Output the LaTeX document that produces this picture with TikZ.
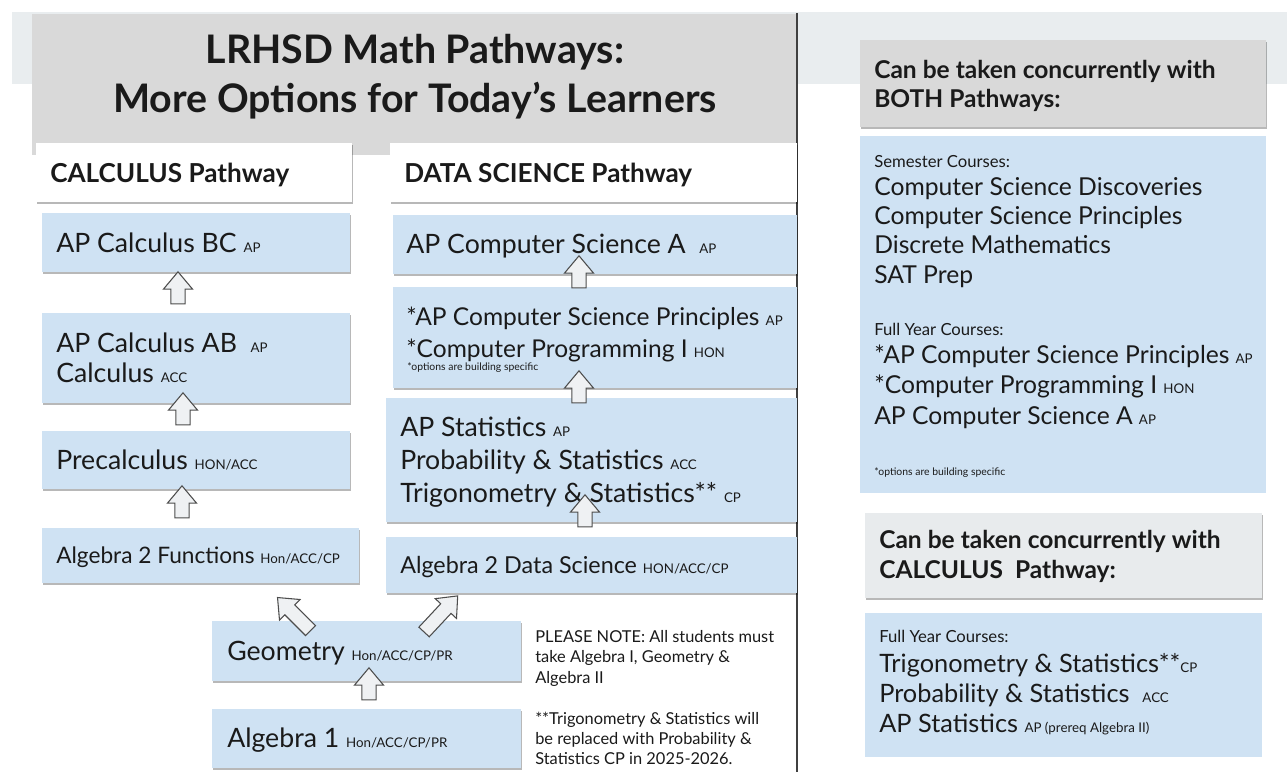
\documentclass[tikz,border=0pt]{standalone}
\usepackage{fontspec}
\setmainfont{Lato}
\usetikzlibrary{shapes.arrows,fit}
\definecolor{boxblue}{HTML}{CFE2F3}
\definecolor{titlegray}{HTML}{D9D9D9}
\definecolor{bandgray}{HTML}{E9EDEF}
\definecolor{hdrgray}{HTML}{E8EBED}
\definecolor{arrowfill}{HTML}{EFF1F3}
\definecolor{arrowline}{HTML}{4D4D4D}
\definecolor{ink}{HTML}{1A1A1A}
\newcommand\fsz[1]{\fontsize{#1}{#1}\selectfont}
\newcommand\lab[1]{{\fontsize{10}{10}\selectfont #1}}
\begin{document}
\begin{tikzpicture}[x=0.75pt,y=-0.75pt,
  area/.style={fit={#1}, inner sep=0pt, draw=none},
  shadowed/.style={preaction={fill=black, opacity=0.28, transform canvas={yshift=-1.8pt, xshift=0.4pt}}},
  bluebox/.style={area={#1}, fill=boxblue, shadowed},
  txt/.style={inner sep=0pt, anchor=base west, text=ink},
  course/.style={txt, font=\fsz{20}},
  side/.style={txt, font=\fsz{18.5}},
  small/.style={txt, font=\fsz{12.5}},
  note/.style={txt, font=\fsz{12.3}},
  tiny/.style={txt, font=\fsz{7.8}},
  hdr/.style={txt, font=\bfseries\fsz{19.6}},
  sidehdr/.style={txt, font=\bfseries\fsz{18.4}},
  uparrow/.style={single arrow, draw=arrowline, fill=arrowfill, line width=0.8pt,
    minimum height=24pt, inner sep=4.9pt, single arrow head extend=5.6pt,
    single arrow tip angle=80, single arrow head indent=0pt, rotate=#1},
  divider/.style={draw=black!75, line width=1pt}
]
\useasboundingbox (0,0) rectangle (1287,772);
\fill[white] (0,0) rectangle (1287,772);

% background band and title
\node[area={(12,12) (1287,84)}, fill=bandgray] (band) {};
\node[area={(32,14) (797,155)}, fill=titlegray] (titlebox) {};
\node[txt, anchor=base, font=\bfseries\fsz{29.5}] (t1) at (415,63) {LRHSD Math Pathways:};
\node[txt, anchor=base, font=\bfseries\fsz{29.5}] (t2) at (415,112) {More Options for Today’s Learners};
\coordinate (divtop) at (797,13);
\coordinate (divbot) at (797,772);
\draw[divider] (divtop) -- (divbot);

% pathway headers
\node[area={(36,143) (352,202)}, fill=white, shadowed] (calchdr) {};
\node[hdr] (calcht) at (50,182) {CALCULUS Pathway};
\node[area={(390,143) (797,202)}, fill=white, shadowed] (dshdr) {};
\node[hdr] (dsht) at (404,182) {DATA SCIENCE Pathway};

% calculus column
\node[bluebox={(42,213) (350,272)}] (bc) {};
\node[course] (bct) at (56,252) {AP Calculus BC \lab{AP}};
\node[bluebox={(42,313) (350,403)}] (ab) {};
\node[course] (abt1) at (56,352) {AP Calculus AB~ \lab{AP}};
\node[course] (abt2) at (56,382) {Calculus \lab{ACC}};
\node[bluebox={(42,431) (350,489)}] (pre) {};
\node[course] (pret) at (56,469) {Precalculus \lab{HON/ACC}};
\node[bluebox={(42,528) (359,583)}] (a2f) {};
\node[course, font=\fsz{17}] (a2ft) at (56,563) {Algebra 2 Functions \lab{Hon/ACC/CP}};

% data science column
\node[bluebox={(393,215) (797,274)}] (csa) {};
\node[course] (csat) at (406,253) {AP Computer Science A~ \lab{AP}};
\node[bluebox={(393,287) (797,388)}] (csp) {};
\node[course, font=\fsz{18.4}] (cspt1) at (406,325) {*AP Computer Science Principles \lab{AP}};
\node[course, font=\fsz{18.4}] (cspt2) at (406,357) {*Computer Programming I \lab{HON}};
\node[tiny] (cspt3) at (407,370) {*options are building specific};
\node[bluebox={(386,398) (797,522)}] (stat) {};
\node[course] (statt1) at (400,436) {AP Statistics \lab{AP}};
\node[course] (statt2) at (400,469) {Probability \& Statistics \lab{ACC}};
\node[course] (statt3) at (400,502) {Trigonometry \& Statistics** \lab{CP}};
\node[bluebox={(386,537) (797,593)}] (a2ds) {};
\node[course, font=\fsz{17.5}] (a2dst) at (400,573) {Algebra 2 Data Science \lab{HON/ACC/CP}};

% common courses
\node[bluebox={(212,621) (521,681)}] (geo) {};
\node[course] (geot) at (227,660) {Geometry \lab{Hon/ACC/CP/PR}};
\node[bluebox={(212,709) (521,768)}] (alg1) {};
\node[course] (alg1t) at (227,747) {Algebra 1 \lab{Hon/ACC/CP/PR}};

% notes
\node[note] (n1) at (535,642) {PLEASE NOTE: All students must};
\node[note] (n2) at (535,662) {take Algebra I, Geometry \&};
\node[note] (n3) at (535,683) {Algebra II};
\node[note] (n4) at (535,724) {**Trigonometry \& Statistics will};
\node[note] (n5) at (535,744) {be replaced with Probability \&};
\node[note] (n6) at (535,764) {Statistics CP in 2025-2026.};

% right side: both pathways
\node[area={(860,40) (1266,127)}, fill=titlegray, shadowed] (both) {};
\node[sidehdr] (botht1) at (874,78) {Can be taken concurrently with};
\node[sidehdr] (botht2) at (874,107) {BOTH Pathways:};
\node[area={(860,136) (1266,493)}, fill=boxblue] (bothlist) {};
\node[small] (bl0) at (874,167) {Semester Courses:};
\node[side] (bl1) at (874,195) {Computer Science Discoveries};
\node[side] (bl2) at (874,224) {Computer Science Principles};
\node[side] (bl3) at (874,253) {Discrete Mathematics};
\node[side] (bl4) at (874,283) {SAT Prep};
\node[small] (bl5) at (874,335) {Full Year Courses:};
\node[side] (bl6) at (874,363) {*AP Computer Science Principles \lab{AP}};
\node[side] (bl7) at (874,393) {*Computer Programming I \lab{HON}};
\node[side] (bl8) at (874,424) {AP Computer Science A \lab{AP}};
\node[tiny] (bl9) at (874,475) {*options are building specific};

% right side: calculus pathway
\node[area={(865,513) (1262,598)}, fill=hdrgray, shadowed] (calc2) {};
\node[sidehdr] (calc2t1) at (879,548) {Can be taken concurrently with};
\node[sidehdr] (calc2t2) at (879,578) {CALCULUS~ Pathway:};
\node[area={(865,613) (1262,757)}, fill=boxblue] (calclist) {};
\node[small] (cl0) at (879,642) {Full Year Courses:};
\node[side, font=\fsz{19}] (cl1) at (879,672) {Trigonometry \& Statistics**\lab{CP}};
\node[side, font=\fsz{19}] (cl2) at (879,702) {Probability \& Statistics~ \lab{ACC}};
\node[side, font=\fsz{19}] (cl3) at (879,732) {AP Statistics \lab{AP (prereq Algebra II)}};

% block arrows
\node[uparrow=90] (ar1) at (178,292) {};
\node[uparrow=90] (ar2) at (183,413) {};
\node[uparrow=90] (ar3) at (182,506) {};
\node[uparrow=90] (ar4) at (579,276) {};
\node[uparrow=90] (ar5) at (579,391) {};
\node[uparrow=90] (ar6) at (585,515) {};
\node[uparrow=90] (ar7) at (369,688) {};
\node[uparrow=135, minimum height=35pt] (ar8) at (297,617) {};
\node[uparrow=47, minimum height=37pt] (ar9) at (438,617) {};
\end{tikzpicture}
\end{document}
